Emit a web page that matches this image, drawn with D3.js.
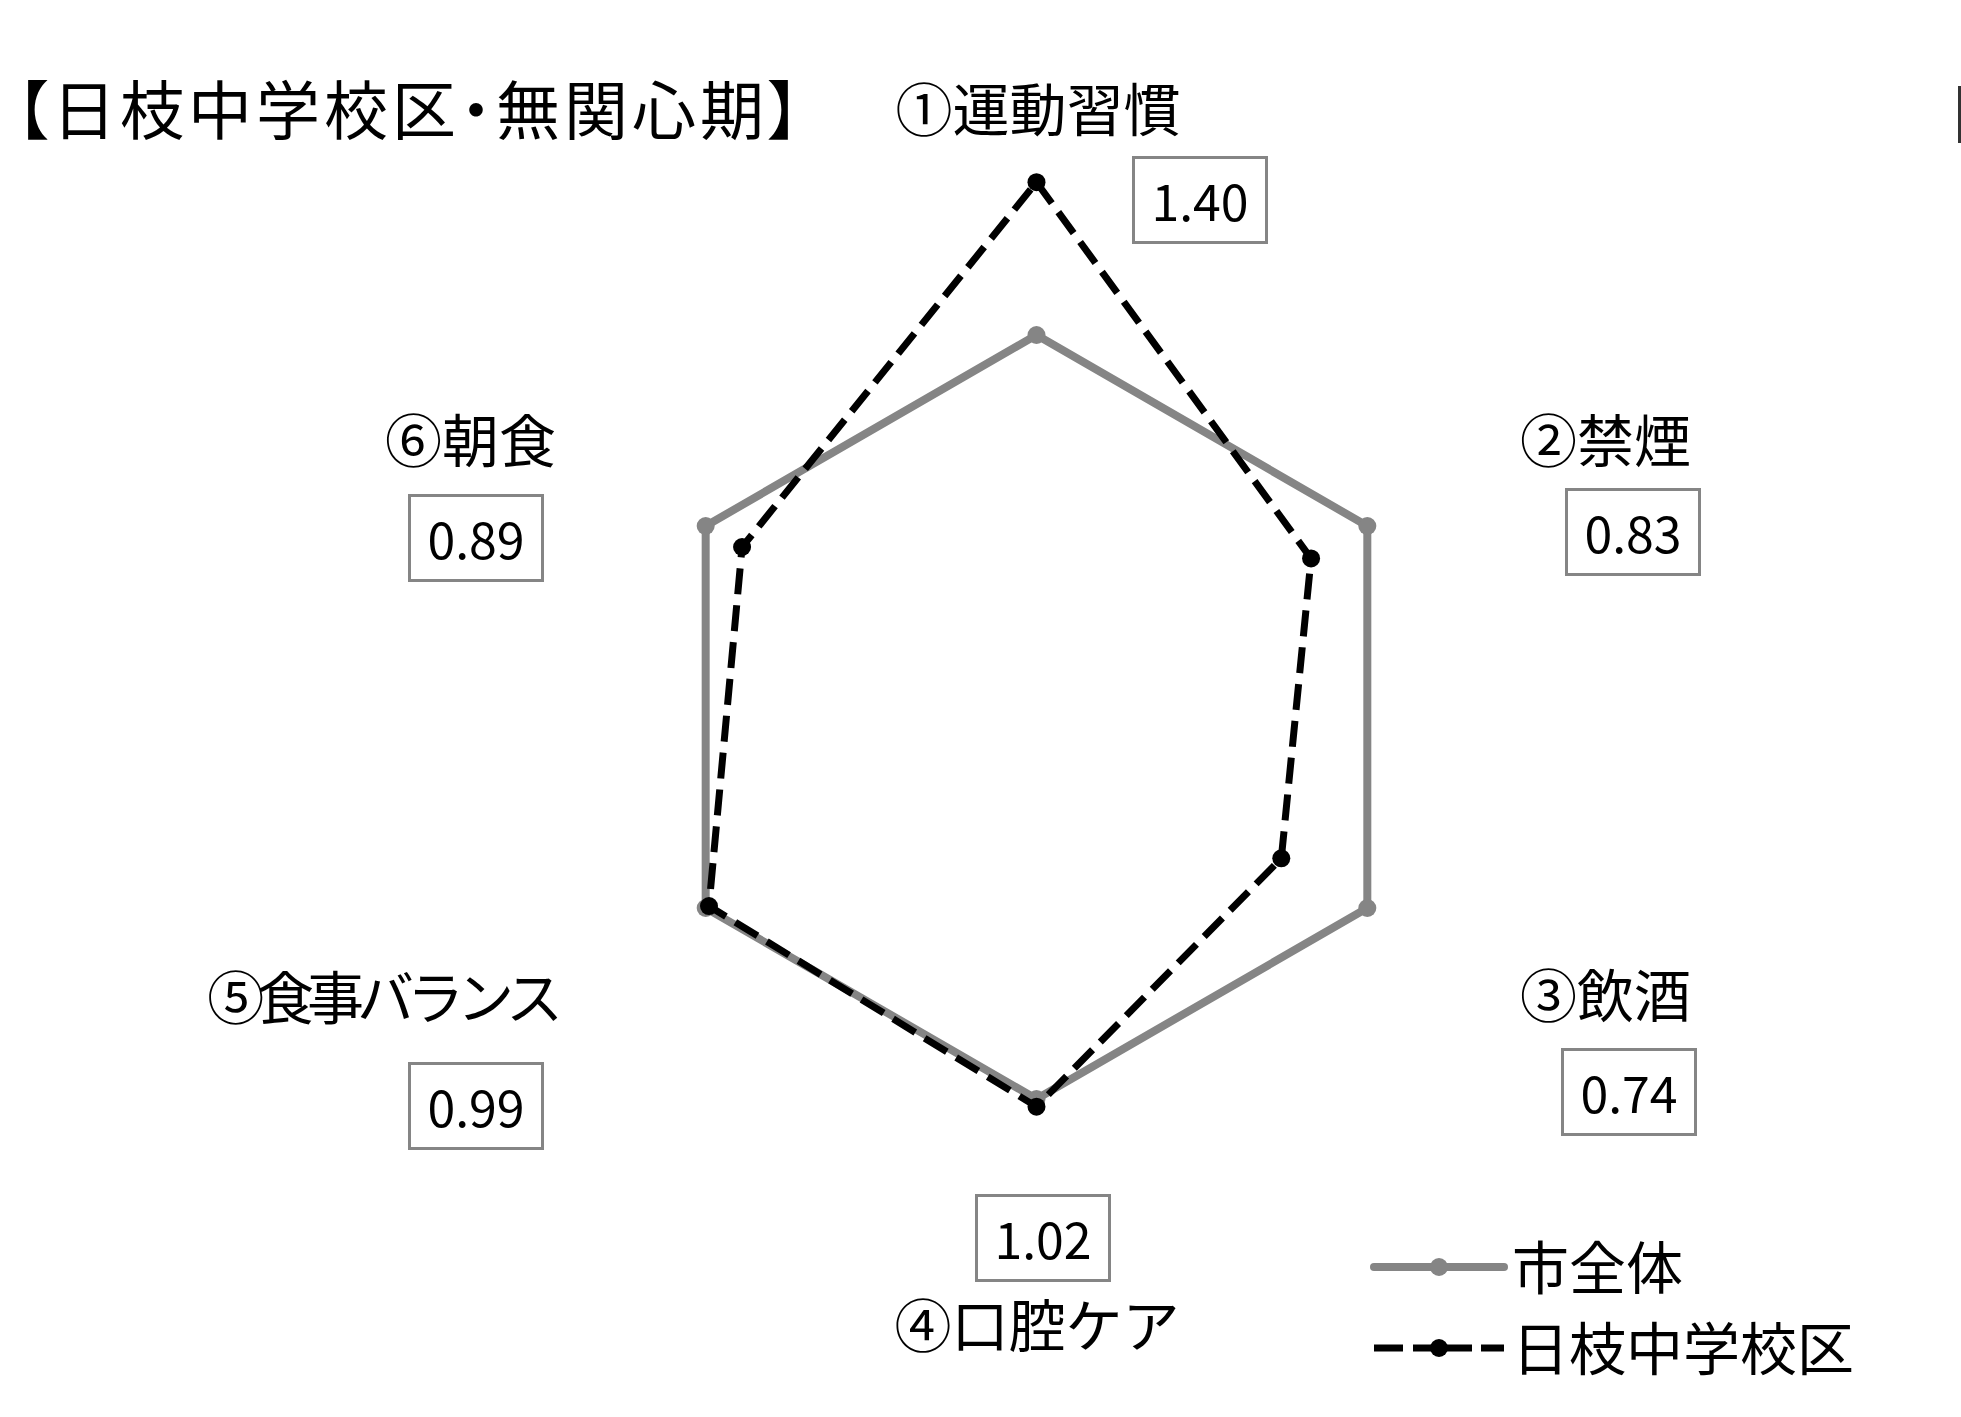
<!DOCTYPE html>
<html>
<head>
<meta charset="utf-8">
<script src="https://cdn.jsdelivr.net/npm/d3@7"></script>
<style>
  html, body { margin: 0; padding: 0; background: #fff; }
  svg { display: block; }
  text { font-family: "Noto Sans CJK JP", "Noto Sans", sans-serif; fill: #000; }
  .title { font-feature-settings: "palt" 1; }
</style>
</head>
<body>
<svg id="chart" width="1961" height="1417"></svg>
<script>
// ---- data ----
const title = "【日枝中学校区・無関心期】";
const axes = ["①運動習慣", "②禁煙", "③飲酒", "④口腔ケア", "⑤食事バランス", "⑥朝食"];
const seriesNames = ["市全体", "日枝中学校区"];
const cityValues = [1.00, 1.00, 1.00, 1.00, 1.00, 1.00];
const schoolValues = [1.40, 0.83, 0.74, 1.02, 0.99, 0.89];

// ---- layout ----
const W = 1961, H = 1417;
const cx = 1036.5, cy = 717;
const svg = d3.select("#chart");

const r = d3.scaleLinear().domain([0, 1.5]).range([0, 573]);
const angle = d3.scalePoint().domain(d3.range(axes.length)).range([0, 2 * Math.PI * (axes.length - 1) / axes.length]);

const GRAY = "#858585";

const g = svg.append("g").attr("transform", `translate(${cx},${cy})`);

const radial = d3.lineRadial()
  .angle((d, i) => angle(i))
  .radius(d => r(d))
  .curve(d3.curveLinearClosed);

// city series
g.append("path")
  .datum(cityValues)
  .attr("d", radial)
  .attr("fill", "none")
  .attr("stroke", GRAY)
  .attr("stroke-width", 8)
  .attr("stroke-linejoin", "round");

g.selectAll("circle.city")
  .data(cityValues)
  .join("circle")
  .attr("class", "city")
  .attr("cx", (d, i) => d3.pointRadial(angle(i), r(d))[0])
  .attr("cy", (d, i) => d3.pointRadial(angle(i), r(d))[1])
  .attr("r", 9)
  .attr("fill", GRAY);

// school series
g.append("path")
  .datum(schoolValues)
  .attr("d", radial)
  .attr("fill", "none")
  .attr("stroke", "#000")
  .attr("stroke-width", 7)
  .attr("stroke-dasharray", "26,11")
  .attr("stroke-linejoin", "miter");

g.selectAll("circle.school")
  .data(schoolValues)
  .join("circle")
  .attr("class", "school")
  .attr("cx", (d, i) => d3.pointRadial(angle(i), r(d))[0])
  .attr("cy", (d, i) => d3.pointRadial(angle(i), r(d))[1])
  .attr("r", 9)
  .attr("fill", "#000");

// ---- title ----
svg.append("text")
  .attr("class", "title")
  .attr("x", 16)
  .attr("y", 106)
  .attr("dominant-baseline", "central")
  .attr("font-size", 64)
  .attr("letter-spacing", 4)
  .text(title);

// ---- axis labels ----
const labelLayout = [
  { x: 1038, y: 106, anchor: "middle", ls: 0 },
  { x: 1520, y: 437, anchor: "start", ls: 0 },
  { x: 1520, y: 992, anchor: "start", ls: 0 },
  { x: 1037, y: 1322, anchor: "middle", ls: 0 },
  { x: 556,  y: 994, anchor: "end", ls: -7 },
  { x: 556,  y: 437, anchor: "end", ls: 0 }
];
svg.selectAll("text.axis")
  .data(axes)
  .join("text")
  .attr("class", "axis")
  .attr("x", (d, i) => labelLayout[i].x)
  .attr("y", (d, i) => labelLayout[i].y)
  .attr("text-anchor", (d, i) => labelLayout[i].anchor)
  .attr("letter-spacing", (d, i) => labelLayout[i].ls)
  .attr("dominant-baseline", "central")
  .attr("font-size", 57)
  .text(d => d);

// ---- value boxes ----
const boxLayout = [
  { x: 1200, y: 200 },
  { x: 1633, y: 532 },
  { x: 1629, y: 1092 },
  { x: 1043, y: 1238 },
  { x: 476,  y: 1106 },
  { x: 476,  y: 538 }
];
const boxW = 133, boxH = 85;
const fmt = d3.format(".2f");
const boxes = svg.selectAll("g.box")
  .data(schoolValues)
  .join("g")
  .attr("class", "box")
  .attr("transform", (d, i) => `translate(${boxLayout[i].x},${boxLayout[i].y})`);
boxes.append("rect")
  .attr("x", -boxW / 2).attr("y", -boxH / 2)
  .attr("width", boxW).attr("height", boxH)
  .attr("fill", "#fff")
  .attr("stroke", GRAY)
  .attr("stroke-width", 3);
boxes.append("text")
  .attr("text-anchor", "middle")
  .attr("dominant-baseline", "central")
  .attr("y", -1)
  .attr("font-size", 50)
  .text(d => fmt(d));

// ---- legend ----
const legend = svg.append("g");
const legendItems = [
  { y: 1267, color: GRAY, width: 8, dash: null, cap: "round" },
  { y: 1348, color: "#000", width: 7, dash: "29,10,59,9,30", cap: "butt" }
];
legend.selectAll("line")
  .data(seriesNames)
  .join("line")
  .attr("x1", 1374).attr("x2", 1504)
  .attr("y1", (d, i) => legendItems[i].y)
  .attr("y2", (d, i) => legendItems[i].y)
  .attr("stroke", (d, i) => legendItems[i].color)
  .attr("stroke-width", (d, i) => legendItems[i].width)
  .attr("stroke-linecap", (d, i) => legendItems[i].cap)
  .attr("stroke-dasharray", (d, i) => legendItems[i].dash);
legend.selectAll("circle")
  .data(seriesNames)
  .join("circle")
  .attr("cx", 1439)
  .attr("cy", (d, i) => legendItems[i].y)
  .attr("r", 9)
  .attr("fill", (d, i) => legendItems[i].color);
legend.selectAll("text")
  .data(seriesNames)
  .join("text")
  .attr("x", 1512)
  .attr("y", (d, i) => legendItems[i].y - 3)
  .attr("dominant-baseline", "central")
  .attr("font-size", 57)
  .text(d => d);

// right edge mark
svg.append("rect")
  .attr("x", W - 3).attr("y", 86)
  .attr("width", 3).attr("height", 57)
  .attr("fill", "#333");
</script>
</body>
</html>
